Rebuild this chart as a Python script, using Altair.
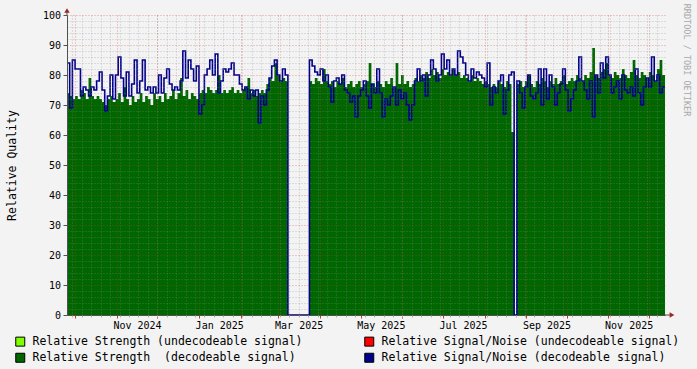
import altair as alt
import pandas as pd

START = "2024-09-25"
END = "2025-12-13"
STEP = "2D"

# Relative Strength (decodeable signal), one value per 2 days
strength = [
    74, 73, 72, 73, 72, 75, 74, 72, 79, 73,
    72, 73, 72, 71, 70, 72, 73, 71, 72, 74,
    71, 76, 72, 70, 73, 71, 72, 74, 71, 73,
    72, 70, 74, 72, 73, 71, 74, 72, 73, 75,
    72, 74, 79, 73, 75, 72, 74, 73, 72, 74,
    75, 74, 76, 75, 74, 75, 80, 74, 75, 74,
    75, 76, 74, 75, 74, 75, 76, 79, 74, 75,
    73, 74, 75, 74, 77, 79, 78, 84, 80, 78,
    79, 78, 0, 0, 0, 0, 0, 0, 0, 0,
    78, 77, 79, 78, 77, 82, 78, 77, 78, 76,
    78, 77, 79, 76, 77, 78, 76, 77, 78, 76,
    77, 78, 84, 77, 76, 78, 77, 76, 78, 77,
    79, 76, 84, 77, 80, 77, 78, 76, 77, 79,
    78, 80, 79, 81, 79, 82, 80, 81, 79, 82,
    80, 81, 80, 82, 80, 81, 79, 80, 79, 78,
    80, 78, 79, 78, 77, 78, 77, 76, 77, 76,
    78, 77, 76, 78, 77, 61, 0, 77, 78, 76,
    78, 80, 77, 76, 78, 77, 79, 78, 76, 78,
    77, 79, 77, 78, 80, 77, 78, 79, 78, 80,
    79, 78, 80, 79, 81, 89, 80, 79, 81, 82,
    84, 80, 79, 81, 80, 79, 82, 80, 79, 81,
    85, 80, 79, 81, 80, 79, 81, 80, 78, 82,
    85, 80,
]

# Relative Signal/Noise (decodeable signal), one value per 2 days
snr = [
    84, 69, 85, 82, 82, 73, 76, 75, 73, 76,
    75, 78, 81, 75, 68, 73, 80, 72, 80, 86,
    79, 73, 81, 73, 77, 85, 74, 78, 85, 75,
    76, 74, 76, 74, 80, 74, 79, 82, 77, 75,
    76, 75, 78, 88, 79, 85, 82, 78, 83, 67,
    70, 80, 82, 85, 80, 87, 74, 78, 82, 81,
    82, 84, 80, 80, 77, 75, 76, 72, 75, 73,
    75, 64, 73, 70, 75, 79, 83, 85, 80, 78,
    82, 80, 0, 0, 0, 0, 0, 0, 0, 0,
    85, 83, 81, 80, 82, 78, 80, 76, 71, 78,
    79, 77, 80, 75, 74, 71, 73, 66, 73, 75,
    78, 73, 69, 77, 74, 82, 74, 66, 72, 70,
    73, 76, 70, 75, 72, 74, 70, 65, 70, 78,
    82, 78, 80, 73, 80, 85, 82, 78, 80, 87,
    82, 85, 80, 82, 80, 88, 86, 84, 80, 78,
    82, 79, 81, 80, 79, 76, 84, 70, 76, 74,
    78, 80, 67, 75, 80, 81, 0, 78, 74, 69,
    76, 80, 73, 72, 74, 82, 70, 82, 72, 80,
    76, 70, 74, 77, 82, 75, 68, 72, 75, 78,
    86, 78, 75, 72, 78, 66, 80, 74, 84, 79,
    86, 80, 74, 76, 78, 72, 80, 75, 74, 76,
    73, 82, 74, 70, 76, 79, 76, 86, 78, 80,
    74, 76,
]

label_dates = ["2024-11-16", "2025-01-16", "2025-03-16", "2025-05-16",
               "2025-07-16", "2025-09-16", "2025-11-16"]
y_major = list(range(0, 101, 10))
y_minor = [v for v in range(0, 101, 2) if v % 10]

legend_names = [
    "Relative Strength (undecodeable signal)",
    "Relative Signal/Noise (undecodeable signal)",
    "Relative Strength \u00a0(decodeable signal)",
    "Relative Signal/Noise (decodeable signal)",
]
legend_colors = ["#80FF00", "#FF0000", "#006600", "#00008C"]

MONO = "DejaVu Sans Mono"


def dt(s):
    y, m, d = (int(p) for p in s.split("-"))
    return alt.DateTime(year=y, month=m, date=d, utc=True)


dates = pd.date_range(START, periods=len(strength), freq=STEP).strftime("%Y-%m-%d").tolist()
df = pd.DataFrame({
    "date": dates + [END],
    "strength": strength + [strength[-1]],
    "snr": snr + [snr[-1]],
})

month_starts = pd.date_range("2024-10-01", "2025-12-01", freq="MS").strftime("%Y-%m-%d").tolist()

xscale = alt.Scale(type="utc", domain=[dt(START), dt(END)])
yscale = alt.Scale(domain=[0, 100], nice=False, zero=True)

MAJOR = "#D03030"
MINOR = "#8C8C8C"
AXIS = "#505050"

x_major_axis = alt.Axis(
    orient="bottom", values=[dt(s) for s in month_starts], labels=False,
    grid=True, gridColor=MAJOR, gridOpacity=0.45, gridDash=[1, 2],
    ticks=True, tickColor=MAJOR, tickSize=3, domain=True, domainColor=AXIS,
    title=None, zindex=1,
)
x_minor_axis = alt.Axis(
    orient="bottom", tickCount={"interval": "week", "step": 1}, labels=False,
    grid=True, gridColor=MINOR, gridOpacity=0.45, gridDash=[1, 2],
    ticks=True, tickColor="#B0B0B0", tickSize=2, domain=False,
    title=None, zindex=1,
)
x_label_axis = alt.Axis(
    orient="bottom", values=[dt(s) for s in label_dates], format="%b %Y",
    labelFont=MONO, labelFontSize=10, labelColor="black", labelPadding=5,
    labelOverlap=False, labelFlush=False, grid=False, ticks=False, domain=False,
    title=None, zindex=1,
)
y_major_axis = alt.Axis(
    orient="left", values=y_major, grid=True, gridColor=MAJOR, gridOpacity=0.45,
    gridDash=[1, 2], ticks=True, tickSize=4, tickColor=AXIS, domain=True,
    domainColor=AXIS, labelFont=MONO, labelFontSize=10, labelColor="black",
    labelPadding=2.5, title="Relative Quality", titleFont=MONO, titleFontSize=11.5,
    titleFontWeight="normal", titleColor="black", titleX=-55, titleY=150,
    titleAngle=270, titleAlign="center", titleBaseline="middle", zindex=1,
)
y_minor_axis = alt.Axis(
    orient="left", values=y_minor, grid=True, gridColor=MINOR, gridOpacity=0.45,
    gridDash=[1, 2], ticks=False, labels=False, domain=False, title=None, zindex=1,
)

area = alt.Chart(df).mark_area(interpolate="step-after", color="#006600").encode(
    x=alt.X("date:T", scale=xscale, axis=x_major_axis),
    y=alt.Y("strength:Q", scale=yscale, axis=y_major_axis),
)

line = alt.Chart(df).mark_line(interpolate="step-after", color="#00008C", strokeWidth=1.6).encode(
    x=alt.X("date:T", scale=xscale, axis=x_minor_axis),
    y=alt.Y("snr:Q", scale=yscale, axis=y_minor_axis),
)

labels_layer = alt.Chart(df).mark_point(opacity=0).encode(
    x=alt.X("date:T", scale=xscale, axis=x_label_axis),
    y=alt.Y("snr:Q", scale=yscale, axis=None),
)

legend_layer = alt.Chart(pd.DataFrame({"name": legend_names})).mark_point(
    shape="square", filled=True, opacity=0
).encode(
    fill=alt.Fill(
        "name:N",
        scale=alt.Scale(domain=legend_names, range=legend_colors),
        legend=alt.Legend(
            title=None, orient="none", legendX=-52.5, legendY=320.5, columns=2,
            direction="horizontal", symbolType="square", symbolSize=81,
            symbolStrokeColor="black", symbolStrokeWidth=1, symbolOpacity=1,
            labelFont=MONO, labelFontSize=11.5, labelColor="black", labelOffset=6.5,
            columnPadding=59, rowPadding=2.5, padding=0, gridAlign="each",
            labelLimit=500,
        ),
    )
)

one = pd.DataFrame({"a": [0]})
arrow_up = alt.Chart(one).mark_point(shape="triangle-up", filled=True, color="#A02828", size=30, opacity=1).encode(
    x=alt.value(0), y=alt.value(-4.5)
)
arrow_right = alt.Chart(one).mark_point(shape="triangle-right", filled=True, color="#A02828", size=30, opacity=1).encode(
    x=alt.value(605), y=alt.value(300)
)
y_ext = alt.Chart(one).mark_rule(color=AXIS).encode(x=alt.value(0), y=alt.value(-3), y2=alt.value(0))
x_ext = alt.Chart(one).mark_rule(color=AXIS).encode(x=alt.value(598), x2=alt.value(603), y=alt.value(300))
watermark = alt.Chart(one).mark_text(
    text="RRDTOOL / TOBI OETIKER", angle=90, font=MONO, fontSize=8.5, color="#A8A8A8",
    align="center", baseline="middle",
).encode(x=alt.value(620), y=alt.value(45))

chart = alt.layer(
    area, line, labels_layer, legend_layer, y_ext, x_ext, arrow_up, arrow_right, watermark
).resolve_axis(x="independent", y="independent").properties(
    width=598, height=300, background="#F3F3F3",
    padding={"left": 67, "top": 15, "right": 32, "bottom": 54},
    autosize=alt.AutoSizeParams(type="none"),
).configure_view(stroke=None, fill="white")

chart.save("out.html", embed_options={"renderer": "svg", "actions": False})
